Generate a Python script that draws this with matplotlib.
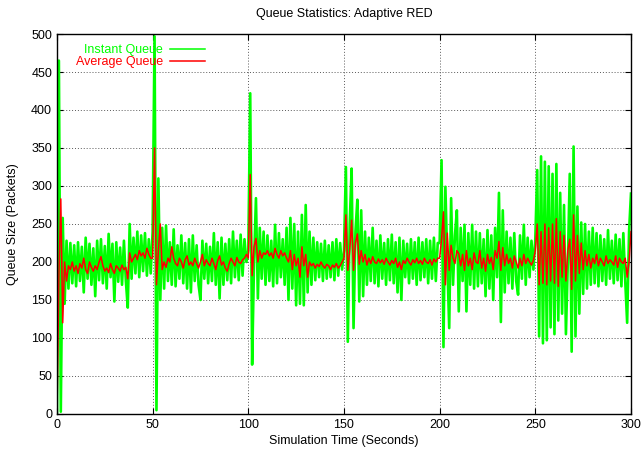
import numpy as np
import matplotlib
matplotlib.use("Agg")
import matplotlib.pyplot as plt

# valeurs, une par seconde (t = 0 .. 300)
instant_queue = [
    0, 465, 3, 258, 145, 228, 165, 225, 172, 222,
    168, 226, 175, 220, 160, 232, 178, 224, 170, 218,
    155, 228, 176, 230, 172, 221, 165, 237, 180, 224,
    148, 226, 174, 219, 170, 228, 175, 140, 250, 178,
    232, 185, 240, 180, 235, 188, 238, 182, 230, 185,
    240, 497, 5, 310, 150, 245, 165, 248, 175, 226,
    170, 243, 168, 222, 178, 235, 172, 225, 165, 230,
    160, 235, 175, 222, 170, 150, 228, 178, 224, 172,
    220, 175, 238, 170, 226, 152, 232, 170, 224, 176,
    230, 172, 240, 180, 228, 176, 236, 182, 230, 200,
    215, 422, 65, 200, 284, 152, 245, 178, 240, 170,
    235, 175, 228, 168, 249, 172, 238, 180, 230, 170,
    245, 150, 258, 165, 250, 143, 240, 145, 262, 143,
    275, 160, 240, 170, 232, 176, 226, 180, 224, 175,
    228, 178, 222, 180, 226, 176, 230, 182, 225, 190,
    215, 325, 95, 250, 323, 113, 240, 282, 148, 268,
    155, 240, 170, 232, 175, 245, 172, 228, 168, 235,
    178, 225, 170, 230, 176, 236, 172, 226, 160, 232,
    150, 228, 180, 224, 172, 230, 178, 226, 170, 232,
    176, 226, 180, 230, 172, 228, 178, 232, 175, 225,
    225, 334, 88, 299, 200, 113, 284, 170, 235, 268,
    135, 245, 175, 249, 135, 238, 170, 249, 165, 240,
    168, 238, 172, 230, 155, 242, 165, 235, 150, 245,
    180, 291, 121, 268, 160, 240, 172, 232, 165, 238,
    175, 157, 235, 178, 249, 170, 232, 180, 228, 190,
    230, 321, 102, 339, 93, 332, 97, 326, 114, 316,
    105, 329, 123, 291, 132, 275, 105, 200, 316, 82,
    352, 102, 273, 132, 252, 158, 250, 165, 240, 170,
    245, 172, 238, 168, 235, 175, 230, 170, 242, 178,
    228, 172, 236, 176, 230, 168, 238, 175, 120, 240,
    290,
]

average_queue = [
    0, 180, 283, 120, 200, 175, 195, 190, 200, 188,
    195, 185, 198, 192, 205, 190, 185, 200, 193, 188,
    195, 190, 200, 207, 195, 188, 192, 186, 198, 190,
    185, 195, 192, 188, 196, 190, 193, 178, 212, 200,
    205, 210, 203, 215, 208, 212, 205, 218, 210, 205,
    205, 350, 170, 215, 250, 190, 200, 193, 205, 200,
    220, 205, 198, 195, 205, 200, 192, 203, 208, 196,
    200, 195, 205, 198, 192, 200, 210, 195, 203, 198,
    195, 205, 198, 190, 202, 208, 196, 200, 192, 188,
    198, 205, 200, 195, 206, 200, 198, 203, 205, 210,
    205, 315, 182, 220, 231, 200, 215, 205, 212, 210,
    215, 208, 212, 205, 218, 210, 205, 215, 208, 212,
    205, 200, 215, 190, 210, 195, 205, 180, 220, 195,
    210, 180, 200, 195, 198, 192, 197, 194, 200, 195,
    192, 197, 195, 190, 196, 193, 198, 192, 195, 200,
    205, 262, 189, 215, 255, 189, 225, 237, 197, 215,
    200, 210, 196, 205, 198, 207, 200, 198, 204, 199,
    203, 197, 205, 200, 196, 202, 198, 205, 193, 200,
    190, 202, 198, 205, 200, 196, 203, 199, 205, 198,
    202, 197, 205, 200, 198, 203, 196, 204, 200, 205,
    205, 230, 266, 170, 238, 189, 222, 205, 198, 215,
    211, 195, 210, 189, 215, 195, 205, 190, 212, 200,
    198, 215, 192, 205, 188, 210, 198, 206, 190, 215,
    205, 227, 189, 219, 195, 210, 198, 205, 192, 208,
    200, 192, 205, 195, 210, 198, 205, 200, 196, 202,
    215, 250, 170, 240, 172, 250, 170, 245, 175, 250,
    172, 257, 168, 240, 180, 235, 175, 215, 230, 164,
    262, 175, 235, 185, 225, 190, 215, 195, 210, 192,
    205, 198, 210, 195, 205, 200, 195, 208, 198, 203,
    200, 196, 208, 193, 205, 200, 198, 205, 180, 200,
    240,
]

time_s = np.arange(len(instant_queue))

plt.rcParams['font.family'] = ['Liberation Sans', 'DejaVu Sans']

fig = plt.figure(figsize=(6.43, 4.57), dpi=100)
ax = fig.add_axes([0.0886, 0.0941, 0.8927, 0.8315])

ax.plot(time_s, instant_queue, color='#00ff00', lw=1.9, label='Instant Queue')
ax.plot(time_s, average_queue, color='#ff0000', lw=1.1, label='Average Queue')

ax.set_xlim(0, 300)
ax.set_ylim(0, 500)
ax.set_xticks(np.arange(0, 301, 50))
ax.set_yticks(np.arange(0, 501, 50))
ax.tick_params(direction='in', top=True, right=True, length=4, labelsize=9, width=0.8)
ax.grid(True, color='0.35', linestyle=(0, (1, 2)), lw=0.7)
for s in ax.spines.values():
    s.set_linewidth(1.0)

ax.set_title('Queue Statistics: Adaptive RED', fontsize=9, pad=12)
ax.set_xlabel('Simulation Time (Seconds)', fontsize=9, labelpad=3)
ax.set_ylabel('Queue Size (Packets)', fontsize=9, labelpad=9)

leg = ax.legend(loc='upper left', bbox_to_anchor=(0.013, 1.003), frameon=False,
                markerfirst=False, labelcolor='linecolor', fontsize=9,
                handlelength=2.8, handletextpad=0.6, labelspacing=0.02)
for t in leg.get_texts():
    t.set_ha('right')
for h in leg.get_lines():
    h.set_linewidth(1.1)

fig.savefig('out.png', dpi=100)
